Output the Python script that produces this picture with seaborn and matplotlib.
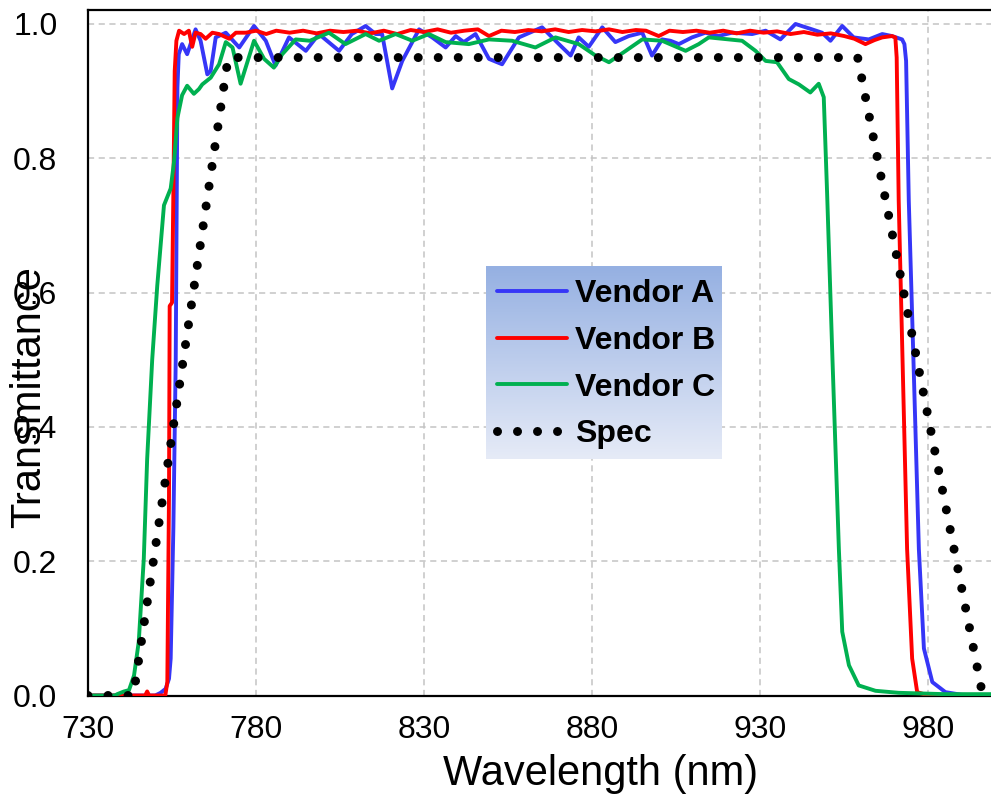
import numpy as np
import pandas as pd
import matplotlib
matplotlib.use("Agg")
import matplotlib.pyplot as plt
import seaborn as sns
from matplotlib.colors import LinearSegmentedColormap

# ---------------- data ----------------
wl_a = [730, 750, 751.6, 753.1, 754.1, 754.6, 755.4, 756.1, 756.6, 757, 758, 759.5, 762, 763.5,
        765.5, 766.5, 768, 771, 775, 779.4, 782.9, 785.8, 789.8, 794.8, 798.7, 804.7, 808.5,
        812.6, 815.6, 817.5, 820.5, 823.5, 828.5, 832.4, 836.4, 839.4, 841.8, 845.3, 849.3,
        853.2, 858.2, 865.1, 870.1, 873.6, 876, 879, 883, 886.9, 890.9, 894.9, 897.8, 900.8,
        903.3, 905.8, 909.7, 913.7, 917.5, 921.6, 927.6, 931.6, 936, 940.5, 945.4, 948.4,
        950.9, 954.4, 957.8, 962.3, 966.3, 969.2, 972.2, 972.9, 973.4, 974.2, 975.7, 977.2,
        978.7, 981.2, 985.1, 990, 1000]
val_a = [0.0, 0.0, 0.004, 0.01, 0.025, 0.055, 0.25, 0.50, 0.905, 0.955, 0.97, 0.955, 0.992, 0.975,
         0.925, 0.93, 0.98, 0.987, 0.965, 0.997, 0.975, 0.938, 0.98, 0.96, 0.985, 0.96, 0.985,
         0.997, 0.985, 0.985, 0.904, 0.945, 0.992, 0.98, 0.965, 0.982, 0.973, 0.985, 0.948,
         0.94, 0.98, 0.995, 0.970, 0.953, 0.98, 0.966, 0.995, 0.973, 0.982, 0.987, 0.953, 0.977,
         0.975, 0.970, 0.98, 0.987, 0.982, 0.987, 0.985, 0.99, 0.977, 1.0, 0.992, 0.987,
         0.975, 0.997, 0.98, 0.977, 0.985, 0.982, 0.977, 0.97, 0.945, 0.737, 0.48, 0.218,
         0.07, 0.02, 0.005, 0.001, 0.0]

wl_b = [730, 747.0, 747.6, 748.2, 753.0, 753.6, 754.1, 754.3, 755.0, 755.4, 755.8, 756.3, 757.1,
        758.6, 760, 761, 762, 763.5, 765, 767, 769, 772, 774, 777, 780, 783, 786, 790, 794,
        798, 802, 806, 810, 814, 818, 822, 826, 830, 834, 838, 842, 846, 849.3, 853, 857, 861,
        865, 869, 873, 877, 881, 885, 889, 893, 896, 899.8, 903, 907, 911, 915, 919, 923, 927,
        931, 935, 939, 943, 947, 951, 955, 958, 961.3, 964, 966.3, 969.2, 970.2, 970.6, 971.2,
        973.7, 975.2, 976.7, 980, 1000]
val_b = [0.0, 0.0, 0.006, 0.0, 0.0, 0.02, 0.3, 0.58, 0.585, 0.75, 0.93, 0.975, 0.99,
         0.985, 0.99, 0.966, 0.987, 0.985, 0.978, 0.987, 0.985, 0.978, 0.987, 0.987, 0.99, 0.985,
         0.99, 0.987, 0.99, 0.986, 0.99, 0.988, 0.99, 0.986, 0.99, 0.985, 0.991, 0.988, 0.992,
         0.987, 0.99, 0.992, 0.982, 0.99, 0.988, 0.991, 0.989, 0.992, 0.988, 0.991, 0.989, 0.992,
         0.988, 0.991, 0.99, 0.982, 0.99, 0.988, 0.99, 0.987, 0.99, 0.986, 0.99, 0.987, 0.989,
         0.985, 0.988, 0.984, 0.986, 0.982, 0.978, 0.970, 0.976, 0.98, 0.982, 0.98, 0.95, 0.737,
         0.218, 0.055, 0.005, 0.0, 0.0]

wl_c = [730, 738.0, 738.7, 740.7, 742.2, 743.7, 745.1, 746.6, 747.6, 749.1, 750.6, 752.6, 754.6,
        755.6, 756.6, 758, 759.5, 761.5, 763, 764, 766.5, 769, 771, 773, 775.4, 776.9, 779.4,
        782.4, 785.3, 787.8, 791.8, 796, 801.7, 806.6, 812.6, 816.6, 821.5, 826.5, 831.4, 836.4,
        843.3, 849.3, 856.2, 863.1, 869.1, 876, 881, 885, 890, 894.9, 900.8, 907.8, 911.7, 914.7,
        924.6, 928.6, 931.6, 935.0, 938.5, 941.5, 944.9, 947.4, 948.9, 949.9, 951.5, 953.4,
        954.4, 956.4, 959.3, 964.3, 971.2, 985, 1000]
val_c = [0.0, 0.0, 0.002, 0.006, 0.008, 0.03, 0.08, 0.204, 0.352, 0.50, 0.61, 0.73, 0.755,
         0.795, 0.86, 0.894, 0.908, 0.896, 0.903, 0.91, 0.92, 0.94, 0.973, 0.965, 0.911, 0.935,
         0.975, 0.948, 0.935, 0.955, 0.977, 0.975, 0.987, 0.970, 0.985, 0.975, 0.985, 0.975,
         0.985, 0.973, 0.970, 0.977, 0.975, 0.965, 0.980, 0.970, 0.953, 0.943, 0.96, 0.977, 0.975,
         0.96, 0.970, 0.980, 0.975, 0.960, 0.945, 0.943, 0.918, 0.910, 0.898, 0.911, 0.891, 0.748,
         0.5, 0.218, 0.095, 0.045, 0.015, 0.007, 0.004, 0.002, 0.002]

wl_spec = [730, 743.5, 771.7, 959.0, 996.2, 1000]
val_spec = [0.0, 0.0, 0.95, 0.95, 0.0, 0.0]

series_names = ["Vendor A", "Vendor B", "Vendor C", "Spec"]
x_ticks = [730, 780, 830, 880, 930, 980]
y_ticks = [0.0, 0.2, 0.4, 0.6, 0.8, 1.0]

# ---------------- style ----------------
sns.set_style("white")
plt.rcParams["font.family"] = ["Liberation Sans", "DejaVu Sans"]
plt.rcParams["text.color"] = "black"
plt.rcParams["axes.labelcolor"] = "black"
plt.rcParams["xtick.color"] = "black"
plt.rcParams["ytick.color"] = "black"

fig = plt.figure(figsize=(9.91, 7.96), dpi=100)
W, H = 991, 796
ax = fig.add_axes([88 / W, 100.5 / H, (995.5 - 88) / W, (786 - 100.5) / H])

colors = ["#3636f7", "#ff0000", "#00b050", "#000000"]
datasets = [(wl_a, val_a), (wl_b, val_b), (wl_c, val_c), (wl_spec, val_spec)]
for name, (wl, v), col in zip(series_names, datasets, colors):
    df = pd.DataFrame({"Wavelength": wl, "T": v})
    lw = 6.5 if name == "Spec" else 2.8
    sns.lineplot(data=df, x="Wavelength", y="T", ax=ax, color=col, lw=lw,
                 label=name, estimator=None, sort=False, zorder=3)
    if name == "Spec":
        ln = ax.lines[-1]
        ln.set_linestyle((0, (0.001, 14.4 / lw)))
        ln.set_dash_capstyle("round")

ax.set_xlim(730, 1000)
ax.set_ylim(0, 1.0208)
ax.set_xticks(x_ticks)
ax.set_yticks(y_ticks)
ax.set_yticklabels([f"{t:.1f}" for t in y_ticks])
ax.grid(True, color="#c3c3c3", linestyle=(0, (4, 3)), linewidth=1.1, zorder=0)
ax.set_axisbelow(True)
for s in ["left", "bottom", "top"]:
    ax.spines[s].set_color("black")
    ax.spines[s].set_linewidth(1.6)
ax.spines["right"].set_visible(False)
ax.tick_params(direction="in", length=7, width=1.4, labelsize=23, colors="black",
               labelcolor="black")
ax.tick_params(axis="x", pad=14)
ax.tick_params(axis="y", pad=22)

ax.set_xlabel("Wavelength (nm)", fontsize=30, color="black")
ax.set_ylabel("Transmittance", fontsize=30, color="black")
ax.xaxis.set_label_coords(0.565, -0.085)
ax.yaxis.set_label_coords(-0.043, 0.436)

handles, labels = ax.get_legend_handles_labels()
ax.get_legend().remove()

# gradient legend box
lax = fig.add_axes([486 / W, (H - 459) / H, 236 / W, 193 / H], zorder=5)
cmap = LinearSegmentedColormap.from_list("g", ["#e6ebf7", "#95b0e2"])
grad = np.linspace(0, 1, 256).reshape(-1, 1)
lax.imshow(grad, aspect="auto", cmap=cmap, origin="lower", extent=[0, 1, 0, 1])
lax.set_xlim(0, 1)
lax.set_ylim(0, 1)
lax.axis("off")
leg = lax.legend(handles, labels, loc="upper left", bbox_to_anchor=(-0.035, 1.03),
                 frameon=False, prop={"weight": "bold", "size": 23},
                 handlelength=2.2, handletextpad=0.25, labelspacing=0.52, borderaxespad=0.2)
for t in leg.get_texts():
    t.set_color("black")

fig.savefig("out.png", dpi=100)
